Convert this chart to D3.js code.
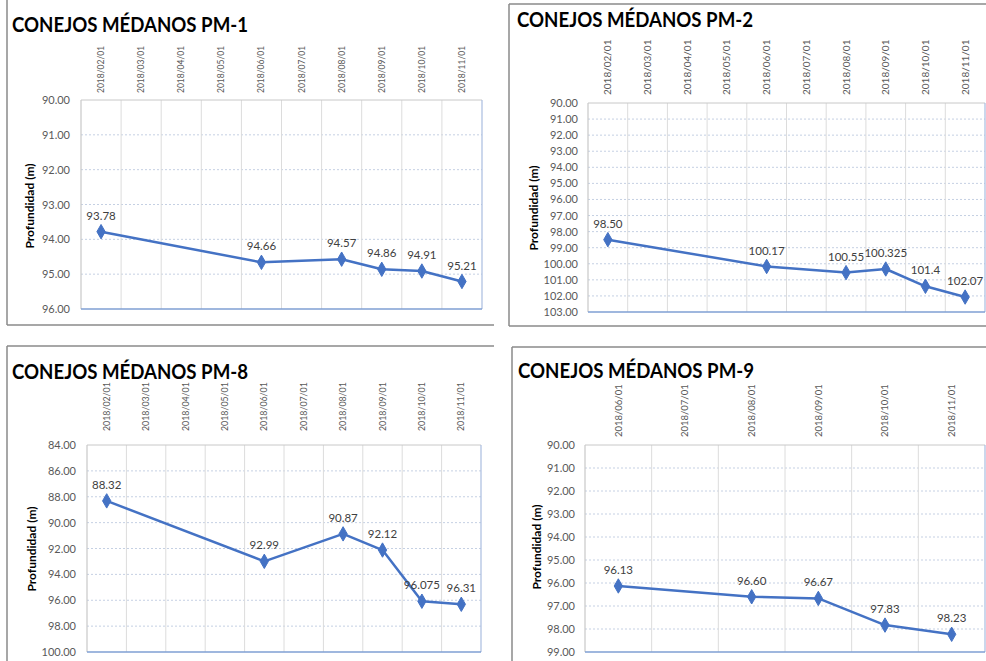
<!DOCTYPE html>
<html>
<head>
<meta charset="utf-8">
<script src="https://cdn.jsdelivr.net/npm/d3@7"></script>
<style>
  html, body { margin: 0; padding: 0; background: #ffffff; }
  svg { display: block; }
  text { font-family: Lato, "Open Sans", sans-serif; }
</style>
</head>
<body>
<svg id="chart" width="986" height="661"></svg>
<script>
// ---------------- DATA ----------------
const pm1Categories = ["2018/02/01","2018/03/01","2018/04/01","2018/05/01","2018/06/01","2018/07/01","2018/08/01","2018/09/01","2018/10/01","2018/11/01"];
const pm1Dates  = ["2018/02/01","2018/06/01","2018/08/01","2018/09/01","2018/10/01","2018/11/01"];
const pm1Values = [93.78, 94.66, 94.57, 94.86, 94.91, 95.21];
const pm1Labels = ["93.78","94.66","94.57","94.86","94.91","95.21"];
const pm1Ticks  = [90, 91, 92, 93, 94, 95, 96];

const pm2Categories = ["2018/02/01","2018/03/01","2018/04/01","2018/05/01","2018/06/01","2018/07/01","2018/08/01","2018/09/01","2018/10/01","2018/11/01"];
const pm2Dates  = ["2018/02/01","2018/06/01","2018/08/01","2018/09/01","2018/10/01","2018/11/01"];
const pm2Values = [98.50, 100.17, 100.55, 100.325, 101.4, 102.07];
const pm2Labels = ["98.50","100.17","100.55","100.325","101.4","102.07"];
const pm2Ticks  = [90, 91, 92, 93, 94, 95, 96, 97, 98, 99, 100, 101, 102, 103];

const pm8Categories = ["2018/02/01","2018/03/01","2018/04/01","2018/05/01","2018/06/01","2018/07/01","2018/08/01","2018/09/01","2018/10/01","2018/11/01"];
const pm8Dates  = ["2018/02/01","2018/06/01","2018/08/01","2018/09/01","2018/10/01","2018/11/01"];
const pm8Values = [88.32, 92.99, 90.87, 92.12, 96.075, 96.31];
const pm8Labels = ["88.32","92.99","90.87","92.12","96.075","96.31"];
const pm8Ticks  = [84, 86, 88, 90, 92, 94, 96, 98, 100];

const pm9Categories = ["2018/06/01","2018/07/01","2018/08/01","2018/09/01","2018/10/01","2018/11/01"];
const pm9Dates  = ["2018/06/01","2018/08/01","2018/09/01","2018/10/01","2018/11/01"];
const pm9Values = [96.13, 96.60, 96.67, 97.83, 98.23];
const pm9Labels = ["96.13","96.60","96.67","97.83","98.23"];
const pm9Ticks  = [90, 91, 92, 93, 94, 95, 96, 97, 98, 99];

const titles = ["CONEJOS MÉDANOS PM-1","CONEJOS MÉDANOS PM-2","CONEJOS MÉDANOS PM-8","CONEJOS MÉDANOS PM-9"];
const yAxisTitle = "Profundidad (m)";

// ---------------- LAYOUT ----------------
const panels = [
  { title: titles[0], cats: pm1Categories, dates: pm1Dates, values: pm1Values, labels: pm1Labels, ticks: pm1Ticks,
    plot: {x0: 81, x1: 482, y0: 100, y1: 309}, titleX: 12, titleY: 32, tickRight: 70, yTitle: {x: 30, y: 206},
    xBase: 93, xFont: 8.5,
    borders: [[7,0,7,325],[7,325,494,325]] },
  { title: titles[1], cats: pm2Categories, dates: pm2Dates, values: pm2Values, labels: pm2Labels, ticks: pm2Ticks,
    plot: {x0: 588, x1: 985, y0: 103, y1: 312}, titleX: 517, titleY: 27, tickRight: 578, yTitle: {x: 534, y: 208},
    xBase: 95, xFont: 10,
    borders: [[509,4,509,326],[509,4,986,4],[509,326,986,326]] },
  { title: titles[2], cats: pm8Categories, dates: pm8Dates, values: pm8Values, labels: pm8Labels, ticks: pm8Ticks,
    plot: {x0: 87, x1: 481, y0: 445, y1: 652}, titleX: 12, titleY: 379, tickRight: 76, yTitle: {x: 32, y: 549},
    xBase: 431, xFont: 8.8,
    borders: [[7,346,7,661],[7,346,494,346]] },
  { title: titles[3], cats: pm9Categories, dates: pm9Dates, values: pm9Values, labels: pm9Labels, ticks: pm9Ticks,
    plot: {x0: 585, x1: 985, y0: 445, y1: 652}, titleX: 518, titleY: 378, tickRight: 575, yTitle: {x: 537, y: 547},
    xBase: 437, xFont: 9.5,
    borders: [[512,347,512,661],[512,347,986,347]] }
];

const svg = d3.select("#chart");
const lineColor = "#4472C4";

panels.forEach((p) => {
  const g = svg.append("g");

  // panel borders
  p.borders.forEach(b => {
    g.append("line").attr("x1", b[0]).attr("y1", b[1]).attr("x2", b[2]).attr("y2", b[3])
      .attr("stroke", "#8a8a8a").attr("stroke-width", 1.5);
  });

  // title
  g.append("text").attr("x", p.titleX).attr("y", p.titleY)
    .attr("font-size", 20.5).attr("font-weight", 700).attr("fill", "#000")
    .attr("textLength", 236).attr("lengthAdjust", "spacingAndGlyphs")
    .text(p.title);

  const x = d3.scaleBand().domain(p.cats).range([p.plot.x0, p.plot.x1]).padding(0);
  const y = d3.scaleLinear().domain([p.ticks[0], p.ticks[p.ticks.length - 1]]).range([p.plot.y0, p.plot.y1]);

  // horizontal gridlines (dashed)
  g.append("g").selectAll("line").data(p.ticks.slice(1, -1)).join("line")
    .attr("x1", p.plot.x0).attr("x2", p.plot.x1)
    .attr("y1", d => y(d)).attr("y2", d => y(d))
    .attr("stroke", "#c5d0e3").attr("stroke-width", 1).attr("stroke-dasharray", "2,2");

  // vertical gridlines at category boundaries
  g.append("g").selectAll("line").data(p.cats.slice(1)).join("line")
    .attr("x1", d => x(d)).attr("x2", d => x(d))
    .attr("y1", p.plot.y0).attr("y2", p.plot.y1)
    .attr("stroke", "#dcdcdc").attr("stroke-width", 1);

  // plot area border
  g.append("line").attr("x1", p.plot.x0).attr("x2", p.plot.x1).attr("y1", p.plot.y0).attr("y2", p.plot.y0)
    .attr("stroke", "#c8c8c8").attr("stroke-width", 1);
  g.append("line").attr("x1", p.plot.x0).attr("x2", p.plot.x0).attr("y1", p.plot.y0).attr("y2", p.plot.y1)
    .attr("stroke", "#c8c8c8").attr("stroke-width", 1.2);
  g.append("line").attr("x1", p.plot.x1).attr("x2", p.plot.x1).attr("y1", p.plot.y0).attr("y2", p.plot.y1)
    .attr("stroke", "#a9bddf").attr("stroke-width", 1.2);
  g.append("line").attr("x1", p.plot.x0).attr("x2", p.plot.x1).attr("y1", p.plot.y1).attr("y2", p.plot.y1)
    .attr("stroke", "#7f9fd3").attr("stroke-width", 1.3);

  // y axis
  const yAxis = d3.axisLeft(y).tickValues(p.ticks).tickFormat(d3.format(".2f")).tickSize(0).tickPadding(0);
  const ya = g.append("g").attr("transform", `translate(${p.tickRight},0)`).call(yAxis);
  ya.select(".domain").remove();
  ya.selectAll("text").attr("font-size", 11).attr("fill", "#595959").attr("font-family", "Lato, sans-serif");

  // x axis (top, rotated labels)
  const xAxis = d3.axisTop(x).tickSize(0).tickPadding(0);
  const xa = g.append("g").attr("transform", `translate(0,${p.xBase})`).call(xAxis);
  xa.select(".domain").remove();
  xa.selectAll("text")
    .attr("transform", "rotate(-90)")
    .attr("x", 0).attr("y", 0).attr("dy", "0.35em")
    .attr("text-anchor", "start")
    .attr("font-size", p.xFont).attr("fill", "#595959").attr("font-family", "Lato, sans-serif");

  // y axis title
  g.append("text")
    .attr("transform", `translate(${p.yTitle.x},${p.yTitle.y}) rotate(-90)`)
    .attr("text-anchor", "middle").attr("dy", "0.35em")
    .attr("font-size", 12).attr("font-weight", 700).attr("fill", "#000")
    .text(yAxisTitle);

  // series
  const pts = p.dates.map((d, i) => ({cx: x(d) + x.bandwidth() / 2, cy: y(p.values[i]), label: p.labels[i]}));
  const line = d3.line().x(d => d.cx).y(d => d.cy);
  g.append("path").datum(pts).attr("d", line)
    .attr("fill", "none").attr("stroke", lineColor).attr("stroke-width", 2.5).attr("stroke-linejoin", "round");

  g.append("g").selectAll("path").data(pts).join("path")
    .attr("d", d3.symbol().type(d3.symbolDiamond).size(60))
    .attr("transform", d => `translate(${d.cx},${d.cy})`)
    .attr("fill", lineColor).attr("stroke", lineColor).attr("stroke-width", 1);

  g.append("g").selectAll("text").data(pts).join("text")
    .attr("x", d => d.cx).attr("y", d => d.cy - 16).attr("dy", "0.35em")
    .attr("text-anchor", "middle").attr("font-size", 11.5).attr("fill", "#404040")
    .text(d => d.label);
});
</script>
</body>
</html>
